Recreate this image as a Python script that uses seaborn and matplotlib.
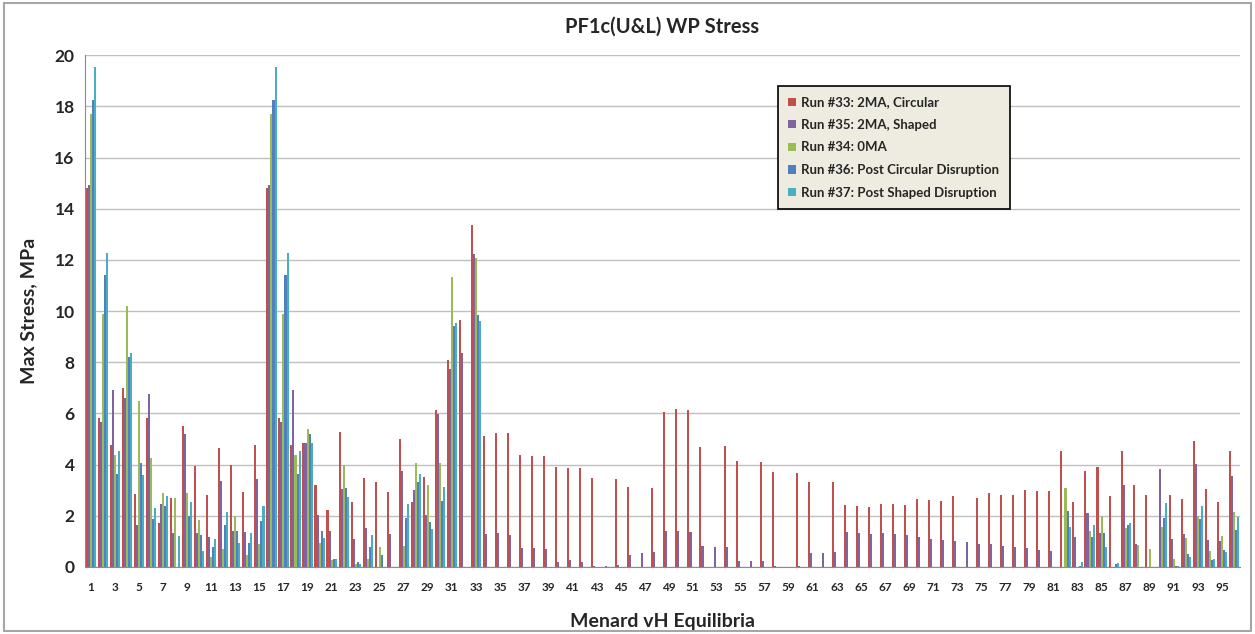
import numpy as np
import pandas as pd
import matplotlib
matplotlib.use("Agg")
import matplotlib.pyplot as plt
import seaborn as sns

# categories 1..96
categories = list(range(1, 97))

run33 = [14.8, 5.82, 4.78, 7.01, 2.85, 5.82, 1.7, 2.68, 5.52, 3.94, 2.82, 4.66,
         4.0, 2.92, 4.78, 14.8, 5.82, 4.78, 4.85, 3.2, 2.23, 5.27, 2.54, 3.48,
         3.31, 2.92, 5.01, 2.54, 3.52, 6.13, 8.1, 9.64, 13.37, 5.13, 5.24, 5.24,
         4.36, 4.33, 4.32, 3.91, 3.88, 3.86, 3.48, 0, 3.43, 3.13, 0, 3.09,
         6.06, 6.18, 6.12, 4.69, 0, 4.73, 4.16, 0, 4.1, 3.71, 0, 3.68,
         3.32, 0, 3.31, 2.44, 2.39, 2.36, 2.48, 2.47, 2.42, 2.66, 2.62, 2.57,
         2.78, 0, 2.71, 2.88, 2.83, 2.82, 3.01, 2.97, 2.95, 4.55, 2.53, 3.74,
         3.91, 2.78, 4.52, 3.22, 2.81, 0, 2.83, 2.65, 4.94, 3.06, 2.55, 4.55]

run35 = [14.93, 5.68, 6.9, 6.59, 1.63, 6.77, 2.47, 1.33, 5.2, 1.33, 1.19, 3.35,
         1.4, 1.38, 3.45, 14.93, 5.68, 6.9, 4.85, 2.05, 1.42, 3.03, 1.08, 1.52,
         0, 1.28, 3.77, 3.0, 2.05, 5.96, 7.75, 8.37, 12.22, 1.28, 1.31, 1.26,
         0.73, 0.75, 0.7, 0.21, 0.27, 0.19, 0.05, 0.04, 0.08, 0.47, 0.53, 0.57,
         1.42, 1.42, 1.36, 0.83, 0.79, 0.79, 0.25, 0.25, 0.22, 0.02, 0, 0.02,
         0.53, 0.55, 0.57, 1.38, 1.32, 1.3, 1.32, 1.27, 1.26, 1.16, 1.09, 1.06,
         1.0, 0.96, 0.91, 0.88, 0.82, 0.78, 0.73, 0.66, 0.61, 0, 1.16, 2.12,
         1.32, 0, 3.22, 0.88, 0, 3.83, 1.1, 1.29, 4.04, 1.04, 1.01, 3.57]

run34 = [17.7, 9.9, 4.36, 10.21, 6.49, 4.26, 2.9, 2.68, 2.89, 1.84, 0.38, 0.7,
         1.98, 0.45, 0.91, 17.7, 9.9, 4.36, 5.38, 0.94, 0.27, 3.98, 0.1, 0.31,
         0.8, 0, 0.82, 4.08, 3.21, 4.08, 11.34, 0, 12.08] + [0] * 48 + \
        [3.1, 0, 1.39, 1.99, 0, 1.51, 0.87, 0.69, 1.58, 0.31, 1.13, 1.99, 0.62, 1.23, 2.14]

run36 = [18.25, 11.41, 3.63, 8.2, 4.05, 1.89, 2.37, 0, 1.98, 1.26, 0.77, 1.66,
         1.42, 0.94, 1.8, 18.25, 11.41, 3.63, 5.2, 1.42, 0.31, 3.1, 0.2, 0.77,
         0.45, 0, 1.91, 3.34, 1.77, 2.58, 9.43, 0, 9.85] + [0] * 48 + \
        [2.17, 0.04, 1.18, 1.34, 0.12, 1.66, 0, 0, 1.91, 0.02, 0.51, 1.86, 0.27, 0.66, 1.44]

run37 = [19.55, 12.25, 4.53, 8.37, 3.59, 2.3, 2.78, 1.2, 2.54, 0.63, 1.08, 2.15,
         0.94, 1.33, 2.4, 19.55, 12.25, 4.53, 4.85, 1.15, 0.3, 2.75, 0.13, 1.24,
         0, 0, 2.47, 3.62, 1.49, 3.14, 9.53, 0, 9.62] + [0] * 48 + \
        [1.57, 0.21, 1.64, 0.79, 0.16, 1.7, 0, 0, 2.49, 0.02, 0.38, 2.4, 0.31, 0.6, 1.97]

series_names = ["Run #33: 2MA, Circular", "Run #35: 2MA, Shaped", "Run #34: 0MA",
                "Run #36: Post Circular Disruption", "Run #37: Post Shaped Disruption"]
colors = ["#C0504D", "#8064A2", "#9BBB59", "#4F81BD", "#4BACC6"]

frames = []
for name, vals in zip(series_names, [run33, run35, run34, run36, run37]):
    frames.append(pd.DataFrame({"cat": categories, "val": vals, "series": name}))
df = pd.concat(frames, ignore_index=True)

sns.set_style("white")
plt.rcParams["font.family"] = ["Lato", "DejaVu Sans"]

fig = plt.figure(figsize=(12.55, 6.34), dpi=100)
ax = fig.add_axes([0.0677, 0.1057, 0.9203, 0.8073])

sns.barplot(data=df, x="cat", y="val", hue="series", palette=colors,
            width=0.85, errorbar=None, saturation=1, ax=ax, zorder=3,
            linewidth=0, edgecolor="none")

ax.set_ylim(0, 20)
ax.set_yticks(range(0, 21, 2))
ax.set_xlim(-0.5, len(categories) - 0.5)
ax.yaxis.grid(True, color="#BFBFBF", linewidth=1, zorder=0)
ax.set_axisbelow(True)
for s in ["top", "right"]:
    ax.spines[s].set_visible(False)
ax.spines["left"].set_color("#8C8C8C")
ax.spines["bottom"].set_color("#8C8C8C")

ax.set_xticks(range(len(categories)))
ax.set_xticklabels([str(c) if c % 2 == 1 else "" for c in categories],
                   fontsize=8.5, fontweight="bold")
ax.tick_params(axis="x", length=0, pad=11)
ax.tick_params(axis="y", length=4, color="#8C8C8C", labelsize=12.5)
for lbl in ax.get_yticklabels():
    lbl.set_fontweight("bold")

ax.set_ylabel("Max Stress, MPa", fontsize=14, fontweight="bold", labelpad=12)
ax.set_xlabel("Menard vH Equilibria", fontsize=14, fontweight="bold", labelpad=14)
ax.set_title("PF1c(U&L) WP Stress", fontsize=14.5, fontweight="bold", pad=16)

leg = ax.legend(loc="upper left", bbox_to_anchor=(0.594, 0.953), frameon=True,
                fancybox=False, fontsize=9.5, handlelength=0.6, handleheight=0.6,
                handletextpad=0.4, labelspacing=0.8, borderpad=0.8)
leg.get_frame().set_facecolor("#EEECE1")
leg.get_frame().set_edgecolor("black")
leg.get_frame().set_linewidth(1.2)
leg.get_frame().set_alpha(1)
for t in leg.get_texts():
    t.set_fontweight("bold")

# chart-area frame
fig.patches.append(plt.Rectangle((0.003, 0.005), 0.994, 0.99, transform=fig.transFigure,
                                 fill=False, edgecolor="#A6A6A6", linewidth=1.5))

fig.savefig("out.png", dpi=100)
